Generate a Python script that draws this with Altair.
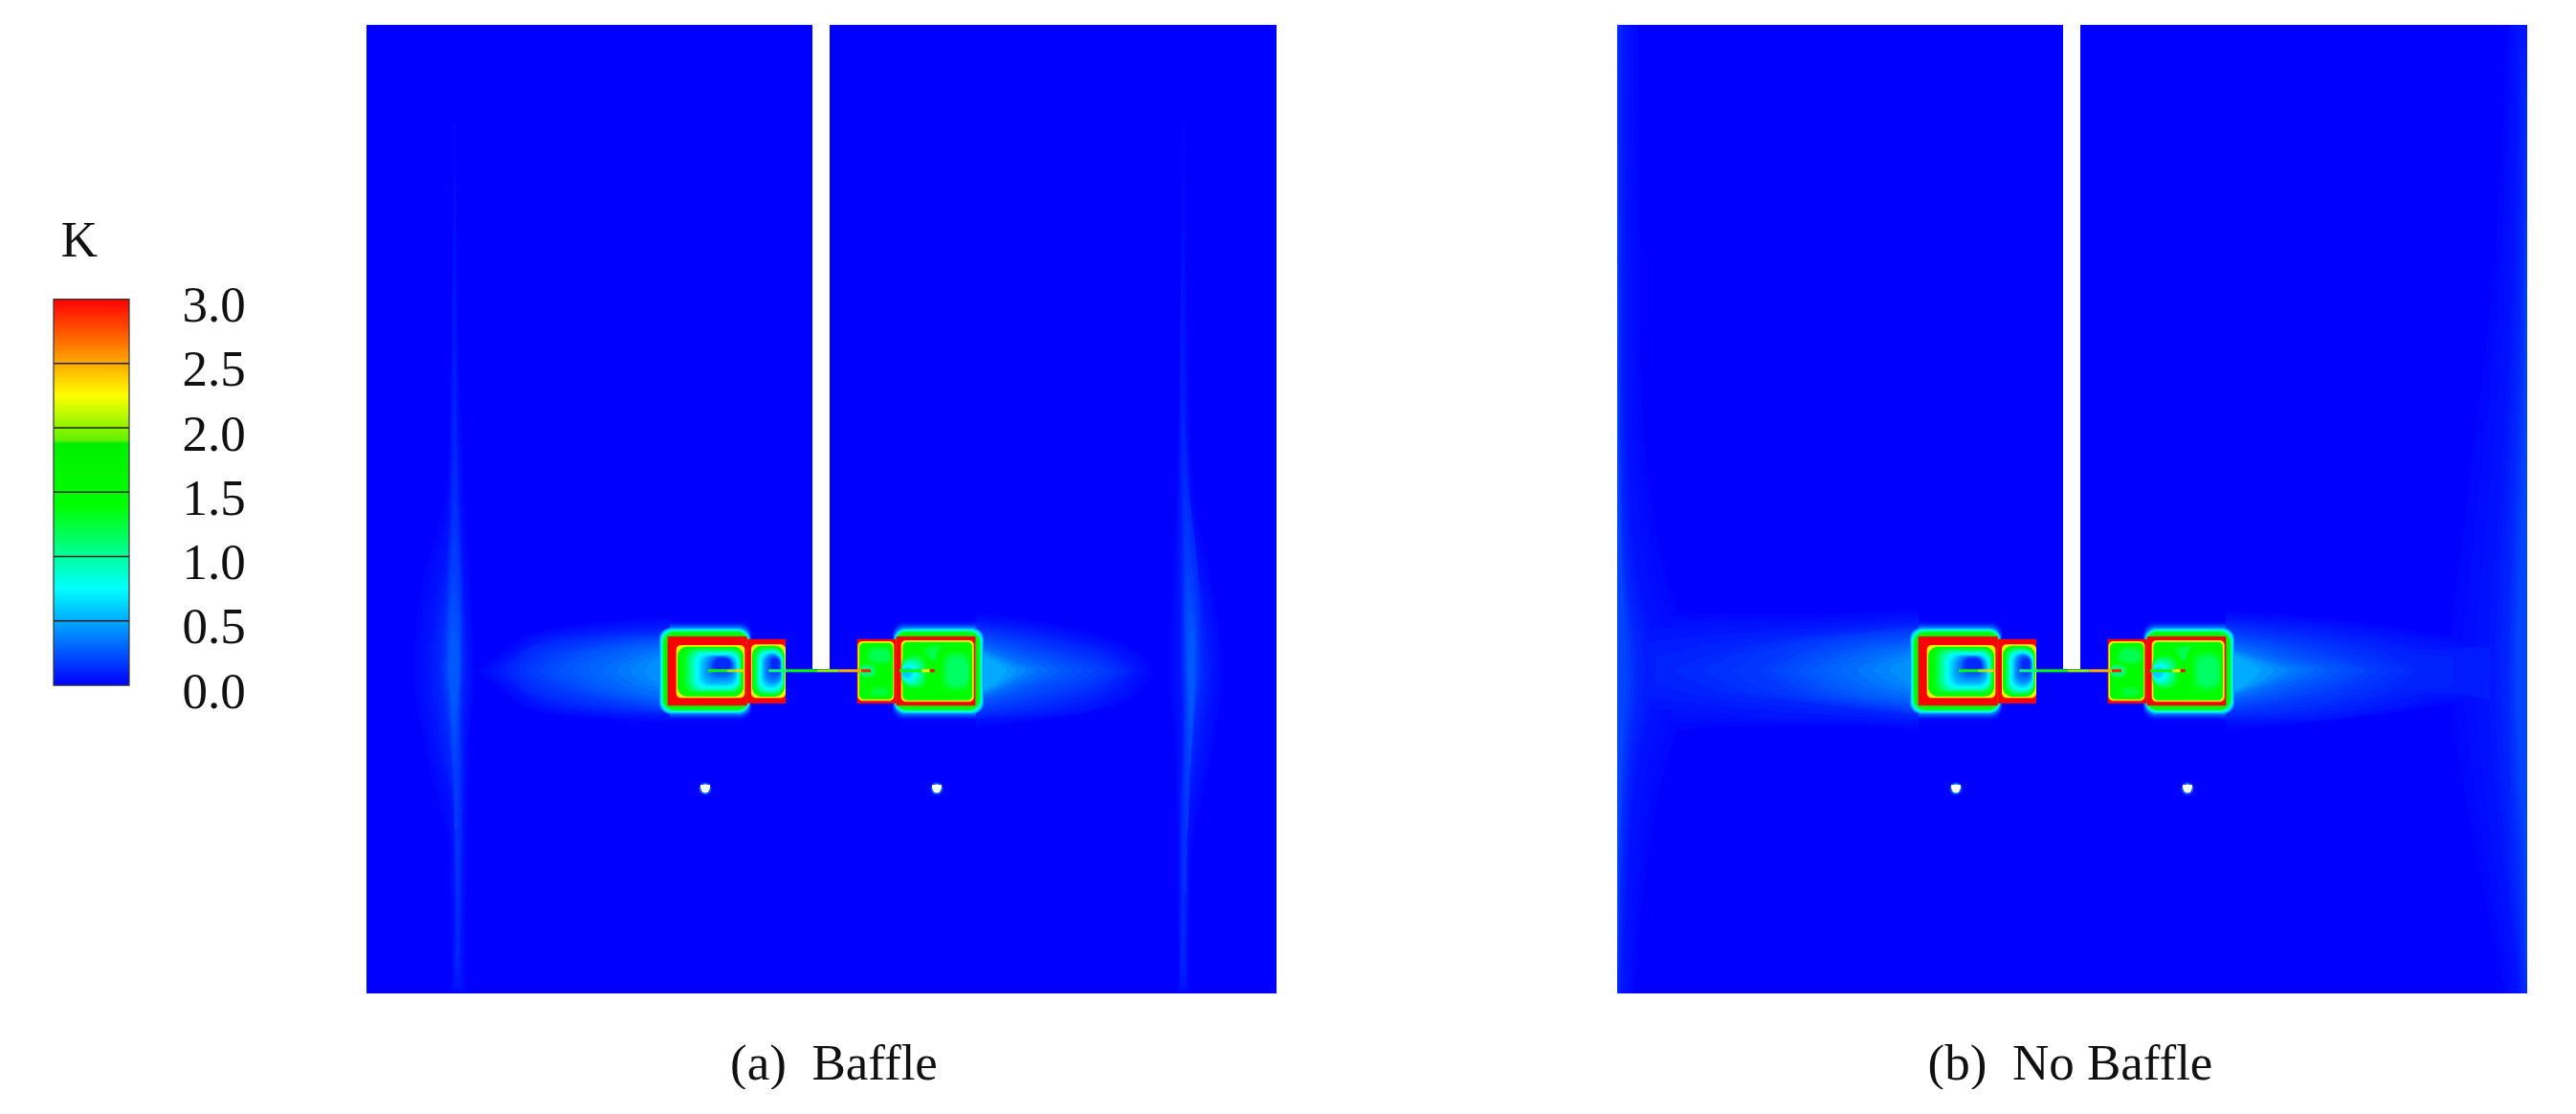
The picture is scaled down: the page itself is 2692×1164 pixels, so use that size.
import altair as alt
import numpy as np
import pandas as pd

FONT = "Liberation Serif"
FS = 53

# ---------- colour scale ----------
stops = [0, 0.75, 1.4, 1.88, 1.9, 2.25, 3.0]
stop_colors = ["#0000ff", "#00ffff", "#00ff00", "#00f000", "#60f000", "#ffff00", "#ff0000"]
cscale = alt.Scale(domain=stops, range=stop_colors, clamp=True, interpolate="rgb")

bar_levels = [i / 200 for i in range(0, 600)]
bar_ticks = [0.5, 1.0, 1.5, 2.0, 2.5]
bar_labels = [0, 0.5, 1.0, 1.5, 2.0, 2.5, 3.0]

# ---------- field patches (same for both cases) ----------
# halo around the two big blocks: distance from wall, level
halo_low = [(16, .03), (14, .07), (13, .12), (12, .18), (11, .25), (10, .33)]
halo_high = [(9, .45), (8, .62), (7, .8), (6, 1.05), (5, 1.3), (4, 1.45), (3, 1.55), (2, 1.65), (1, 1.8)]
# (x0, x1, y0, y1, level)
walls = [
    (143, 392, 135, 352, 3.0), (392, 513, 143, 345, 3.0),
    (737, 860, 143, 345, 3.0), (860, 1108, 135, 352, 3.0),
]
rims = [
    (170, 385, 162, 328, 2.3), (405, 513, 160, 328, 2.3),
    (739, 853, 150, 337, 2.3), (744, 850, 155, 332, 1.5),
    (875, 1103, 147, 340, 2.3), (880, 1098, 152, 335, 1.5),
]
# nested contours inside the blocks, outermost first
inner_chains = [
    [(174, 381, 167, 323, 1.6), (195, 375, 172, 312, 1.3), (225, 368, 185, 300, .85), (250, 358, 195, 285, .55),
     (275, 348, 198, 260, .3), (290, 340, 205, 240, .12)],
    [(408, 509, 164, 324, 1.6), (418, 506, 172, 316, 1.2), (432, 503, 183, 303, .75), (448, 498, 192, 280, .4),
     (468, 493, 205, 245, .12)],
    [(756, 848, 160, 235, 1.5), (775, 840, 175, 215, 1.2)],
    [(765, 845, 285, 328, 1.5), (785, 830, 298, 320, 1.25)],
    [(742, 805, 215, 272, 1.5), (745, 790, 228, 258, 1.1)],
    [(925, 1095, 155, 225, 1.5), (960, 1085, 170, 205, 1.2)],
    [(985, 1095, 165, 325, 1.5), (1020, 1085, 200, 290, 1.15)],
    [(878, 965, 185, 305, 1.5), (878, 945, 205, 290, 1.1), (878, 925, 222, 275, .8), (878, 905, 235, 262, .6)],
]
needles = [
    (270, 330, 238, 247, 1.5), (330, 355, 238, 247, 2.0), (355, 380, 238, 247, 2.4),
    (460, 520, 238, 247, 1.1), (520, 610, 238, 247, 1.5), (610, 680, 238, 247, 2.0),
    (680, 750, 238, 247, 2.5), (750, 780, 238, 247, 2.9),
    (870, 940, 238, 247, 1.5), (940, 965, 238, 247, 2.3), (965, 980, 238, 247, 3.0),
]
slot = (466, 484, 0, 673)
holes_x = [354, 596]
holes_y = [798, 798]

# ---------- wake contours: level, [(x, top, bottom)] ----------
wake_a = [
    [(.02, [(500, 700, 702), (520, 684, 718), (550, 664, 740), (610, 652, 750), (700, 645, 755)]),
     (.06, [(515, 698, 704), (535, 684, 718), (560, 668, 736), (610, 658, 745), (700, 652, 750)]),
     (.12, [(535, 698, 704), (550, 680, 720), (580, 670, 732), (625, 664, 740), (700, 660, 745)]),
     (.18, [(555, 698, 704), (572, 685, 715), (600, 676, 725), (640, 668, 734), (700, 664, 742)]),
     (.25, [(585, 698, 704), (605, 686, 714), (630, 678, 724), (660, 673, 730), (700, 668, 738)]),
     (.32, [(630, 698, 704), (650, 687, 716), (670, 680, 724), (685, 677, 727), (700, 675, 730)]),
     (.42, [(675, 698, 704), (680, 692, 710), (690, 688, 714), (695, 686, 716), (700, 685, 718)])],
    [(.02, [(1020, 640, 760), (1090, 650, 752), (1150, 664, 742), (1190, 682, 724), (1205, 699, 701)]),
     (.06, [(1020, 648, 752), (1085, 656, 748), (1140, 670, 740), (1175, 684, 720), (1190, 699, 702)]),
     (.12, [(1020, 654, 748), (1070, 662, 743), (1115, 672, 733), (1155, 686, 718), (1175, 699, 702)]),
     (.18, [(1020, 660, 742), (1060, 668, 735), (1105, 680, 725), (1140, 692, 712), (1155, 699, 702)]),
     (.25, [(1020, 668, 735), (1050, 675, 728), (1085, 686, 716), (1110, 694, 708), (1120, 699, 702)]),
     (.35, [(1020, 675, 730), (1040, 682, 722), (1060, 690, 714), (1075, 696, 706), (1082, 699, 702)]),
     (.5, [(1020, 680, 727), (1030, 686, 720), (1040, 691, 714), (1048, 696, 707), (1052, 699, 702)])],
]
wake_b = [
    [(.02, [(1690, 635, 780), (1760, 640, 762), (1850, 642, 758), (1930, 640, 758), (2005, 638, 762)]),
     (.06, [(1690, 660, 740), (1760, 655, 742), (1850, 654, 750), (1930, 650, 752), (2005, 646, 755)]),
     (.12, [(1750, 699, 702), (1790, 684, 720), (1850, 670, 730), (1930, 660, 740), (2005, 654, 748)]),
     (.18, [(1840, 699, 702), (1870, 680, 722), (1910, 668, 732), (1960, 662, 738), (2005, 658, 745)]),
     (.25, [(1880, 699, 702), (1905, 686, 718), (1935, 677, 728), (1970, 671, 733), (2005, 667, 738)]),
     (.32, [(1925, 699, 702), (1945, 688, 716), (1965, 681, 722), (1985, 677, 727), (2005, 675, 730)]),
     (.42, [(1975, 699, 702), (1985, 692, 710), (1993, 689, 714), (2000, 686, 716), (2005, 685, 718)])],
    [(.02, [(2326, 638, 762), (2420, 645, 755), (2500, 655, 745), (2580, 665, 735), (2641, 645, 765)]),
     (.06, [(2326, 646, 754), (2420, 652, 752), (2490, 662, 742), (2570, 676, 726), (2641, 664, 746)]),
     (.12, [(2326, 652, 748), (2390, 660, 745), (2450, 670, 735), (2500, 685, 720), (2525, 699, 702)]),
     (.18, [(2326, 660, 742), (2380, 668, 735), (2430, 680, 725), (2465, 692, 712), (2485, 699, 702)]),
     (.25, [(2326, 668, 735), (2370, 675, 728), (2410, 688, 716), (2435, 694, 708), (2445, 699, 702)]),
     (.35, [(2326, 675, 730), (2350, 682, 722), (2380, 692, 712), (2395, 696, 706), (2405, 699, 702)]),
     (.5, [(2326, 680, 727), (2338, 686, 720), (2350, 691, 714), (2358, 696, 707), (2362, 699, 702)])],
]
# ---------- vertical streak contours: level, [(y, left, right)] ----------
streak_a = [
    [(.02, [(130, 474, 476), (500, 468, 484), (620, 440, 492), (700, 432, 496), (780, 445, 490), (900, 470, 488), (1038, 472, 486)]),
     (.06, [(300, 474, 476), (560, 468, 482), (640, 452, 487), (700, 446, 490), (760, 453, 486), (860, 474, 484), (1030, 475, 482)]),
     (.12, [(480, 475, 476), (620, 466, 483), (660, 462, 484), (700, 460, 484), (750, 465, 482), (860, 476, 482), (1000, 477, 479)]),
     (.2, [(600, 473, 476), (650, 468, 481), (680, 467, 481), (700, 466, 481), (730, 469, 480), (770, 472, 478), (800, 474, 476)]),
     (.26, [(660, 472, 477), (680, 470, 479), (690, 469, 480), (700, 469, 480), (710, 470, 479), (725, 471, 478), (740, 473, 476)])],
    [(.02, [(130, 1236, 1238), (500, 1230, 1246), (620, 1225, 1268), (700, 1222, 1278), (780, 1228, 1268), (900, 1230, 1245), (1038, 1232, 1242)]),
     (.06, [(300, 1234, 1236), (560, 1232, 1245), (640, 1232, 1262), (700, 1232, 1268), (760, 1235, 1260), (860, 1233, 1242), (1030, 1233, 1240)]),
     (.12, [(480, 1236, 1237), (620, 1236, 1254), (660, 1236, 1256), (700, 1236, 1257), (750, 1237, 1250), (860, 1235, 1240), (1000, 1235, 1237)]),
     (.2, [(600, 1240, 1242), (650, 1238, 1250), (680, 1239, 1251), (700, 1239, 1251), (730, 1240, 1249), (770, 1241, 1246), (800, 1242, 1244)]),
     (.26, [(660, 1243, 1246), (680, 1242, 1248), (690, 1241, 1248), (700, 1241, 1248), (710, 1242, 1248), (725, 1243, 1247), (740, 1244, 1246)])],
]
streak_b = [
    [(.02, [(26, 1690, 1712), (400, 1690, 1715), (600, 1690, 1740), (700, 1690, 1770), (800, 1690, 1740), (950, 1690, 1715), (1038, 1690, 1708)]),
     (.06, [(26, 1690, 1700), (400, 1690, 1700), (600, 1690, 1712), (700, 1690, 1732), (800, 1690, 1712), (950, 1690, 1700), (1038, 1690, 1697)]),
     (.12, [(26, 1690, 1693), (400, 1690, 1694), (600, 1690, 1700), (700, 1690, 1712), (800, 1690, 1702), (950, 1690, 1694), (1038, 1690, 1692)]),
     (.2, [(400, 1690, 1691), (500, 1690, 1692), (620, 1690, 1696), (700, 1690, 1700), (780, 1690, 1696), (880, 1690, 1692), (950, 1690, 1691)])],
    [(.02, [(26, 2620, 2641), (300, 2605, 2641), (550, 2575, 2641), (700, 2560, 2641), (850, 2580, 2641), (1000, 2610, 2641), (1038, 2618, 2641)]),
     (.06, [(26, 2630, 2641), (300, 2625, 2641), (550, 2610, 2641), (700, 2600, 2641), (850, 2610, 2641), (1000, 2628, 2641), (1038, 2632, 2641)]),
     (.12, [(100, 2638, 2641), (300, 2635, 2641), (550, 2625, 2641), (700, 2620, 2641), (850, 2625, 2641), (1000, 2635, 2641), (1038, 2637, 2641)]),
     (.2, [(300, 2640, 2641), (500, 2636, 2641), (620, 2632, 2641), (700, 2630, 2641), (780, 2632, 2641), (900, 2638, 2641), (1000, 2640, 2641)])],
]

W, H = 951, 1012
xs = alt.Scale(domain=[0, W], nice=False, zero=False)
ys = alt.Scale(domain=[0, H], nice=False, zero=False, reverse=True)
col = alt.Color("v:Q", scale=cscale, legend=None)


def zx(a):
    return 267 + a / 3


def zy(a):
    return 594 + a / 3


def blocks(rows):
    return pd.DataFrame(
        [{"x": zx(a), "x2": zx(b), "y": zy(c), "y2": zy(d), "v": v} for a, b, c, d, v in rows]
    )


def soften_rects(chain, n=4):
    """Fine steps between the nested contours of one block, so they read as a smooth field."""
    rows = []
    for p, q in zip(chain[:-1], chain[1:]):
        for j in range(n):
            f = j / n
            rows.append(tuple(p[k] * (1 - f) + q[k] * f for k in range(5)))
    rows.append(chain[-1])
    return rows


def soften_contours(chains, n=3):
    """Fine steps between neighbouring read contours: returns [(level, array of 3 columns)]."""
    out = []
    for chain in chains:
        for (l0, p0), (l1, p1) in zip(chain[:-1], chain[1:]):
            a, b = np.array(p0, float), np.array(p1, float)
            for j in range(n):
                f = j / n
                out.append((l0 * (1 - f) + l1 * f, a * (1 - f) + b * f))
        out.append((chain[-1][0], np.array(chain[-1][1], float)))
    return out


def panel(caption, title_x, wake, streak, x_off):
    ax = alt.Axis(title=caption, labels=False, ticks=False, domain=False, grid=False,
                  titleFont=FONT, titleFontSize=FS, titleFontWeight="normal", titleColor="#111",
                  titlePadding=47, titleX=title_x, titleAlign="center")
    X = alt.X("x:Q", scale=xs, axis=ax)
    Y = alt.Y("y:Q", scale=ys, axis=None)

    def rects(df, **mk):
        return alt.Chart(df).mark_rect(**mk).encode(x=X, x2="x2:Q", y=Y, y2="y2:Q", color=col)

    bg = rects(pd.DataFrame([{"x": 0, "x2": W, "y": 0, "y2": H, "v": 0.0}]))

    def halo(steps):
        rows = []
        for d, lv in steps:
            rows.append({"x": 315 - d, "x2": 398 + d * .3, "y": 639 - d, "y2": 711 + d, "v": lv})
            rows.append({"x": 554 - d * .3, "x2": 636 + d, "y": 639 - d, "y2": 711 + d, "v": lv})
        return rects(pd.DataFrame(rows), cornerRadius=12)

    # contours painted low to high, as a filled-contour plot would be
    w_rows, s_rows = {}, {}
    for i, (lv, pts) in enumerate(soften_contours(wake)):
        b = round(lv / .02)
        for x, t, bt in pts:
            w_rows.setdefault(b, []).append({"x": x - x_off, "y": t - 26, "y2": bt - 26, "v": lv, "g": i})
    for i, (lv, pts) in enumerate(soften_contours(streak)):
        b = round(lv / .02)
        for y, l, r in pts:
            s_rows.setdefault(b, []).append({"x": l - x_off, "x2": r - x_off, "y": y - 26, "v": lv, "g": i})

    layers = [bg, halo(halo_low)]
    for b in sorted(set(w_rows) | set(s_rows)):
        if b in w_rows:
            layers.append(alt.Chart(pd.DataFrame(w_rows[b])).mark_area(interpolate="monotone", clip=True).encode(
                x=X, y=Y, y2="y2:Q", color=col, detail="g:N"))
        if b in s_rows:
            layers.append(alt.Chart(pd.DataFrame(s_rows[b])).mark_area(
                interpolate="monotone", orient="horizontal", clip=True).encode(
                x=X, x2="x2:Q", y=Y, color=col, detail="g:N"))

    layers += [halo(halo_high), rects(blocks(walls)), rects(blocks(rims), cornerRadius=5)]
    fine = []
    for chain in inner_chains:
        fine += soften_rects(chain)
    layers.append(rects(blocks(fine), cornerRadius=10))
    layers.append(rects(blocks(needles)))

    layers.append(alt.Chart(pd.DataFrame([{"x": slot[0], "x2": slot[1], "y": slot[2], "y2": slot[3]}])).mark_rect().encode(
        x=X, x2="x2:Q", y=Y, y2="y2:Q", color=alt.value("white")))
    hole_df = pd.DataFrame({"x": holes_x, "y": holes_y, "v": [.25, .25]})
    layers.append(alt.Chart(hole_df).mark_circle(size=170, opacity=1).encode(x=X, y=Y, color=col))
    layers.append(alt.Chart(hole_df).mark_circle(size=80, opacity=1).encode(x=X, y=Y, color=alt.value("white")))
    top_df = pd.DataFrame({"x": [h - 5 for h in holes_x], "x2": [h + 5 for h in holes_x],
                           "y": [h - 4 for h in holes_y], "y2": holes_y})
    layers.append(alt.Chart(top_df).mark_rect().encode(x=X, x2="x2:Q", y=Y, y2="y2:Q", color=alt.value("white")))
    return alt.layer(*layers).properties(width=W, height=H)


pa = panel("(a) \u00a0Baffle", 488, wake_a, streak_a, 383)
pb = panel("(b) \u00a0No Baffle", 473, wake_b, streak_b, 1690)

# ---------- colour bar ----------
bys = alt.Scale(domain=[-2.394, 5.131], nice=False, zero=False)
bxs = alt.Scale(domain=[0, 1], nice=False, zero=False)
bar_ax = alt.Axis(values=bar_labels, format=".1f", orient="right", ticks=False, domain=False, grid=False,
                  labelFont=FONT, labelFontSize=FS, labelColor="#111", labelPadding=55, labelOffset=7,
                  labelOverlap=False, title=None)
BY = alt.Y("y:Q", scale=bys, axis=bar_ax)
BX = alt.X("x:Q", scale=bxs, axis=None)
bar_df = pd.DataFrame([{"x": 0, "x2": 1, "y": v, "y2": min(v + .02, 3), "v": v + .0025} for v in bar_levels])
bar = alt.Chart(bar_df).mark_rect().encode(x=BX, x2="x2:Q", y=BY, y2="y2:Q", color=col)
tick_df = pd.DataFrame([{"x": 0, "x2": 1, "y": v} for v in bar_ticks])
ticks = alt.Chart(tick_df).mark_rule(color="#222", strokeWidth=1.5).encode(x=BX, x2="x2:Q", y=BY)
frame_df = pd.DataFrame([{"x": 0, "x2": 1, "y": 0, "y2": 3}])
frame = alt.Chart(frame_df).mark_rect(fillOpacity=0, stroke="#333", strokeWidth=1.2).encode(
    x=BX, x2="x2:Q", y=BY, y2="y2:Q")
k = alt.Chart(pd.DataFrame([{"x": .34, "y": 3.45, "t": "K"}])).mark_text(
    font=FONT, fontSize=FS, color="#111", align="center", baseline="middle").encode(x=BX, y=BY, text="t:N")
legend_view = alt.layer(bar, ticks, frame, k).properties(width=79, height=H)

panels = alt.hconcat(pa, pb, spacing=356)
chart = alt.hconcat(legend_view, panels, spacing=126).resolve_scale(x="independent", y="independent").properties(
    padding={"left": 47, "top": 18, "right": 0, "bottom": 0}, background="white"
).configure_view(strokeWidth=0)

chart.save("out.html", embed_options={"renderer": "svg", "actions": False})
